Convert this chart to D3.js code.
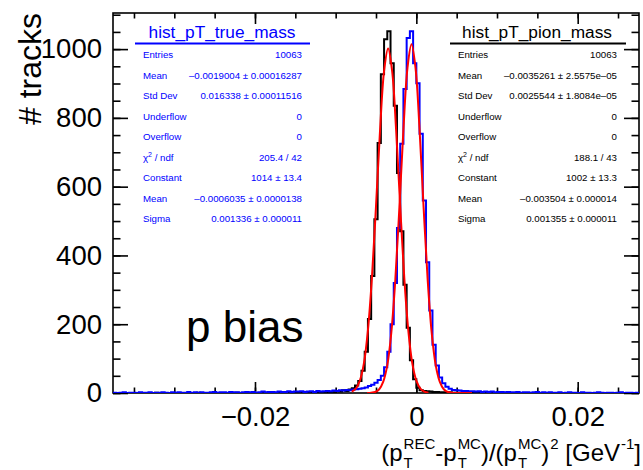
<!DOCTYPE html>
<html>
<head>
<meta charset="utf-8">
<script src="https://cdn.jsdelivr.net/npm/d3@7"></script>
<style>
body { margin: 0; background: #fff; }
svg { display: block; font-family: "Liberation Sans", Arial, Helvetica, sans-serif; }
</style>
</head>
<body>
<div id="chart"></div>
<script>
// binning of both histograms
var binLow = -0.0376;
var binWidth = 0.0004;

// hist_pT_true_mass (blue), counts per bin
var trueMassCounts = [
  1,0,1,2,0,1,1,0,2,1, 1,2,0,1,1,2,1,0,2,1, 2,1,1,3,0,2,1,2,1,1,
  2,3,1,2,2,1,3,2,2,1, 2,3,2,3,1,2,4,2,3,3, 2,4,3,3,5,3,4,4,5,3,
  4,5,3,6,4,5,6,5,7,6, 8,7,9,8,10,11,12,14,16,20,
  24,30,38,50,75,120,200,320,480,725,884,1032,1052,959,901,754,560,380,240,140,80,45,28,18,12,9,
  8,7,6,6,5,5,4,5,3,4, 3,4,2,3,3,2,3,2,2,3, 1,2,2,1,2,3,1,2,1,2,
  1,1,2,0,1,2,1,1,0,2, 1,1,0,1,2,1,0,1,1,0, 1,2,0,1,1,0,1
];

// hist_pT_pion_mass (black), counts per bin
var pionMassCounts = [
  0,0,0,0,0,0,0,0,0,0, 0,0,0,1,0,0,0,0,0,0, 0,0,0,0,0,0,1,0,0,0,
  0,0,0,0,0,0,0,0,1,0, 0,0,0,0,0,0,0,1,0,0, 0,0,1,0,0,0,1,0,0,1,
  0,1,0,1,1,
  1,2,3,2,5,4,8,6,
  10,14,22,35,65,120,215,340,505,727,927,1029,1052,959,835,640,470,315,190,95,40,15,8,6,5,
  4,3,3,2,2,1,2,1,1,1, 0,1,0,0,1,0,0,0,0,0, 0,0,1,0,0,0,0,0,0,0,
  0,0,0,0,0,0,0,0,0,0, 0,0,0,0,0,0,0,0,0,0, 0,0,0,0,0,0,0,0,0,0,
  0,0,0,0,0
];

// gaussian fits
var pionFitX = [-0.0080,-0.0075,-0.0070,-0.0065,-0.0060,-0.0055,-0.0050,-0.0045,-0.0040,-0.0035,
                -0.0030,-0.0025,-0.0020,-0.0015,-0.0010,-0.0005,0.0000,0.0005,0.0010,0.0015];
var pionFitY = [4,13,36,86,183,337,543,763,936,1002,936,763,543,337,183,86,36,13,4,1];

var trueFitX = [-0.0061,-0.0056,-0.0051,-0.0046,-0.0041,-0.0036,-0.0031,-0.0026,-0.0021,-0.0016,-0.0011,
                -0.0006,-0.0001,0.0004,0.0009,0.0014,0.0019,0.0024,0.0029,0.0034,0.0039,0.0044,
                0.0049,0.0054,0.0059,0.0064,0.0069];
var trueFitY = [0,1,3,11,33,81,176,331,540,766,945,1014,945,766,540,331,176,81,33,11,3,1,0,0,0,0,0];

var xTickLabels = [-0.02, 0, 0.02];
var xMinorTicks = [-0.035,-0.03,-0.025,-0.02,-0.015,-0.01,-0.005,0,0.005,0.01,0.015,0.02,0.025];
var yTickLabels = [0, 200, 400, 600, 800, 1000];

var trueStats = [
  ['Entries', '10063'],
  ['Mean', '\u20130.0019004 \u00b1 0.00016287'],
  ['Std Dev', '0.016338 \u00b1 0.00011516'],
  ['Underflow', '0'],
  ['Overflow', '0'],
  ['chi2', '205.4 / 42'],
  ['Constant', '1014 \u00b1 13.4'],
  ['Mean', '\u20130.0006035 \u00b1 0.0000138'],
  ['Sigma', '0.001336 \u00b1 0.000011']
];
var pionStats = [
  ['Entries', '10063'],
  ['Mean', '\u20130.0035261 \u00b1 2.5575e\u201305'],
  ['Std Dev', '0.0025544 \u00b1 1.8084e\u201305'],
  ['Underflow', '0'],
  ['Overflow', '0'],
  ['chi2', '188.1 / 43'],
  ['Constant', '1002 \u00b1 13.3'],
  ['Mean', '\u20130.003504 \u00b1 0.000014'],
  ['Sigma', '0.001355 \u00b1 0.000011']
];

var width = 643, height = 470;
var frame = { left: 113, right: 639, top: 13, bottom: 393 };

var svg = d3.select('#chart').append('svg')
  .attr('width', width)
  .attr('height', height);

var x = d3.scaleLinear().domain([-0.0376, 0.0276]).range([frame.left, frame.right]);
var y = d3.scaleLinear().domain([0, 1105]).range([frame.bottom, frame.top]);

svg.append('clipPath').attr('id', 'frameClip')
  .append('rect')
  .attr('x', frame.left).attr('y', frame.top - 2)
  .attr('width', frame.right - frame.left).attr('height', frame.bottom - frame.top + 2);

// frame
svg.append('rect')
  .attr('x', frame.left).attr('y', frame.top)
  .attr('width', frame.right - frame.left).attr('height', frame.bottom - frame.top)
  .attr('fill', 'none').attr('stroke', '#000').attr('stroke-width', 1.6);

function fmtMinus(d) {
  return d3.format('')(d).replace('-', '\u2212');
}

function styleAxis(g) {
  g.select('.domain').remove();
  g.selectAll('.tick line').attr('stroke', '#000').attr('stroke-width', 1.6);
  g.selectAll('text').attr('font-size', 27.5).attr('fill', '#000')
    .attr('font-family', '"Liberation Sans", Arial, sans-serif');
}

// bottom axis
svg.append('g').attr('transform', 'translate(0,' + frame.bottom + ')')
  .call(d3.axisBottom(x).tickValues(xMinorTicks).tickSizeInner(-5.5).tickSizeOuter(0).tickFormat(''))
  .call(styleAxis);
svg.append('g').attr('transform', 'translate(0,' + frame.bottom + ')')
  .call(d3.axisBottom(x).tickValues(xTickLabels).tickSizeInner(-11).tickSizeOuter(0).tickPadding(13).tickFormat(fmtMinus))
  .call(styleAxis);
// top axis
svg.append('g').attr('transform', 'translate(0,' + frame.top + ')')
  .call(d3.axisTop(x).tickValues(xMinorTicks).tickSizeInner(-5.5).tickSizeOuter(0).tickFormat(''))
  .call(styleAxis);
svg.append('g').attr('transform', 'translate(0,' + frame.top + ')')
  .call(d3.axisTop(x).tickValues(xTickLabels).tickSizeInner(-11).tickSizeOuter(0).tickFormat(''))
  .call(styleAxis);

// left / right axes
var yMinor = d3.range(0, 1101, 50);
svg.append('g').attr('transform', 'translate(' + frame.left + ',0)')
  .call(d3.axisLeft(y).tickValues(yMinor).tickSizeInner(-7.5).tickSizeOuter(0).tickFormat(''))
  .call(styleAxis);
svg.append('g').attr('transform', 'translate(' + frame.left + ',0)')
  .call(d3.axisLeft(y).tickValues(yTickLabels).tickSizeInner(-15).tickSizeOuter(0).tickPadding(11).tickFormat(d3.format('d')))
  .call(styleAxis);
svg.append('g').attr('transform', 'translate(' + frame.right + ',0)')
  .call(d3.axisRight(y).tickValues(yMinor).tickSizeInner(-7.5).tickSizeOuter(0).tickFormat(''))
  .call(styleAxis);
svg.append('g').attr('transform', 'translate(' + frame.right + ',0)')
  .call(d3.axisRight(y).tickValues(yTickLabels).tickSizeInner(-15).tickSizeOuter(0).tickFormat(''))
  .call(styleAxis);

// histograms as step outlines
function stepPoints(counts) {
  var pts = counts.map(function (c, i) { return [binLow + i * binWidth, c]; });
  pts.push([binLow + counts.length * binWidth, counts[counts.length - 1]]);
  return pts;
}
var stepLine = d3.line()
  .x(function (d) { return x(d[0]); })
  .y(function (d) { return y(d[1]); })
  .curve(d3.curveStepAfter);

var plot = svg.append('g').attr('clip-path', 'url(#frameClip)');

plot.append('path').datum(stepPoints(pionMassCounts))
  .attr('d', stepLine).attr('fill', 'none').attr('stroke', '#000').attr('stroke-width', 2);
plot.append('path').datum(stepPoints(trueMassCounts))
  .attr('d', stepLine).attr('fill', 'none').attr('stroke', '#0000ff').attr('stroke-width', 2);

var fitLine = d3.line()
  .x(function (d) { return x(d[0]); })
  .y(function (d) { return y(d[1]); })
  .curve(d3.curveCatmullRom);

plot.append('path').datum(d3.zip(pionFitX, pionFitY))
  .attr('d', fitLine).attr('fill', 'none').attr('stroke', '#ff0000').attr('stroke-width', 2);
plot.append('path').datum(d3.zip(trueFitX, trueFitY))
  .attr('d', fitLine).attr('fill', 'none').attr('stroke', '#ff0000').attr('stroke-width', 2);

// stats boxes
function statsBox(title, rows, color, labelX, valueX, centerX, lineX1, lineX2) {
  var g = svg.append('g').attr('fill', color);
  g.append('text').attr('x', centerX).attr('y', 38)
    .attr('text-anchor', 'middle').attr('font-size', 17.3).text(title);
  g.append('line').attr('x1', lineX1).attr('x2', lineX2).attr('y1', 43.5).attr('y2', 43.5)
    .attr('stroke', color).attr('stroke-width', 2);
  rows.forEach(function (r, i) {
    var yy = 58 + i * 20.5;
    var lab = g.append('text').attr('x', labelX).attr('y', yy).attr('font-size', 9.7);
    if (r[0] === 'chi2') {
      lab.append('tspan').text('\u03c7');
      lab.append('tspan').attr('font-size', 7).attr('dy', -4).text('2');
      lab.append('tspan').attr('dy', 4).text(' / ndf');
    } else {
      lab.text(r[0]);
    }
    g.append('text').attr('x', valueX).attr('y', yy).attr('font-size', 9.7)
      .attr('text-anchor', 'end').text(r[1]);
  });
}
statsBox('hist_pT_true_mass', trueStats, '#0000ff', 143, 302, 222, 135, 310);
statsBox('hist_pT_pion_mass', pionStats, '#000', 458, 617, 537, 450, 626);

// "p bias"
svg.append('text').attr('x', 186).attr('y', 342).attr('font-size', 44).text('p bias');

// y title
svg.append('text')
  .attr('transform', 'translate(41,13) rotate(-90)')
  .attr('text-anchor', 'end').attr('font-size', 32).text('# tracks');

// x title with sub/superscripts
var xTitleParts = [
  { t: '(p' }, { sub: 'T', sup: 'REC' }, { t: '-p' }, { sub: 'T', sup: 'MC' },
  { t: ')/(p' }, { sub: 'T', sup: 'MC' }, { t: ')' }, { sup: '2' },
  { t: ' [GeV' }, { sup: '-1' }, { t: ']' }
];
var xt = svg.append('g');
var cx = 0;
xTitleParts.forEach(function (p) {
  if (p.t) {
    var t = xt.append('text').attr('x', cx).attr('y', 0).attr('font-size', 24)
      .style('white-space', 'pre').text(p.t);
    cx += t.node().getComputedTextLength();
  } else {
    var w = 0;
    if (p.sub) {
      var s = xt.append('text').attr('x', cx + 1).attr('y', 7).attr('font-size', 15).text(p.sub);
      w = Math.max(w, s.node().getComputedTextLength() + 1);
    }
    if (p.sup) {
      var u = xt.append('text').attr('x', cx + 1).attr('y', -12).attr('font-size', 15).text(p.sup);
      w = Math.max(w, u.node().getComputedTextLength() + 1);
    }
    cx += w;
  }
});
xt.attr('transform', 'translate(' + (641 - cx) + ',461)');
</script>
</body>
</html>
